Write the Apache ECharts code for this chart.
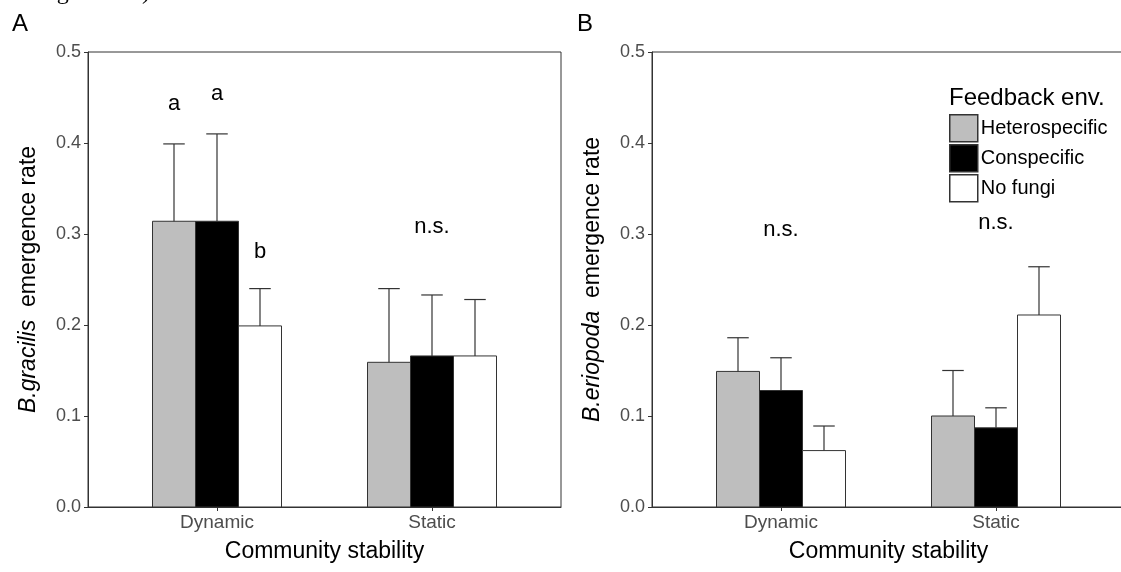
<!DOCTYPE html>
<html>
<head>
<meta charset="utf-8">
<script src="https://cdn.jsdelivr.net/npm/echarts@6/dist/echarts.min.js"></script>
<style>
  html, body { margin: 0; padding: 0; background: #fff; }
  #chart { width: 1121px; height: 572px; }
</style>
</head>
<body>
<div id="chart"></div>
<script>
// categories on the x axis and the three feedback groups
var categories = ['Dynamic', 'Static'];
var groups = ['Heterospecific', 'Conspecific', 'No fungi'];
var groupColors = ['#bebebe', '#000000', '#ffffff'];
var yTicks = [0, 0.1, 0.2, 0.3, 0.4, 0.5];

// panel A: B.gracilis, rows = groups, columns = categories
var gracilisMean = [[0.314, 0.159], [0.314, 0.166], [0.199, 0.166]];
var gracilisUpper = [[0.399, 0.240], [0.410, 0.233], [0.240, 0.228]];
// panel B: B.eriopoda
var eriopodaMean = [[0.149, 0.100], [0.128, 0.087], [0.062, 0.211]];
var eriopodaUpper = [[0.186, 0.150], [0.164, 0.109], [0.089, 0.264]];

// significance letters: [x position, y value, text]
var gracilisLetters = [[0.8, 0.443, 'a'], [1.0, 0.454, 'a'], [1.2, 0.280, 'b'], [2.0, 0.308, 'n.s.']];
var eriopodaLetters = [[1.0, 0.305, 'n.s.'], [2.0, 0.312, 'n.s.']];

var offsets = [-0.2, 0, 0.2];
var barW = 0.2;
var capW = 0.1;

var myChart = echarts.init(document.getElementById('chart'));

function barItem(params, api) {
	var x = api.value(0), y = api.value(1);
	var p0 = api.coord([x - barW / 2, 0]);
	var p1 = api.coord([x + barW / 2, y]);
	return {
		type: 'rect',
		shape: { x: p0[0], y: p1[1], width: p1[0] - p0[0], height: p0[1] - p1[1] },
		style: { fill: api.visual('color'), stroke: '#333', lineWidth: 1 }
	};
}

function errItem(params, api) {
	var x = api.value(0), m = api.value(1), u = api.value(2);
	var pm = api.coord([x, m]);
	var pu = api.coord([x, u]);
	var c0 = api.coord([x - capW / 2, u]);
	var c1 = api.coord([x + capW / 2, u]);
	var st = { stroke: '#333', lineWidth: 1.2 };
	return {
		type: 'group',
		children: [
			{ type: 'line', shape: { x1: pm[0], y1: pm[1], x2: pu[0], y2: pu[1] }, style: st },
			{ type: 'line', shape: { x1: c0[0], y1: c0[1], x2: c1[0], y2: c1[1] }, style: st }
		]
	};
}

function textItem(params, api) {
	var p = api.coord([api.value(0), api.value(1)]);
	return {
		type: 'text',
		x: p[0], y: p[1],
		style: {
			text: api.value(2),
			align: 'center', verticalAlign: 'middle',
			fill: '#000',
			font: '22px "Liberation Sans", Arial, sans-serif'
		}
	};
}

var series = [];
[[gracilisMean, gracilisUpper, gracilisLetters], [eriopodaMean, eriopodaUpper, eriopodaLetters]].forEach(function (panel, pi) {
	var mean = panel[0], upper = panel[1];
	groups.forEach(function (g, gi) {
		var pts = categories.map(function (c, ci) { return [ci + 1 + offsets[gi], mean[gi][ci]]; });
		series.push({
			name: g,
			type: 'custom',
			xAxisIndex: pi, yAxisIndex: pi,
			itemStyle: { color: groupColors[gi], borderColor: '#333', borderWidth: 1 },
			renderItem: barItem,
			data: pts
		});
	});
	var errs = [];
	groups.forEach(function (g, gi) {
		categories.forEach(function (c, ci) {
			errs.push([ci + 1 + offsets[gi], mean[gi][ci], upper[gi][ci]]);
		});
	});
	series.push({ type: 'custom', xAxisIndex: pi, yAxisIndex: pi, renderItem: errItem, data: errs, z: 3 });
	series.push({ type: 'custom', xAxisIndex: pi, yAxisIndex: pi, renderItem: textItem, data: panel[2], z: 4 });
});

var sans = '"Liberation Sans", Arial, sans-serif';

function xAxisCfg(gi) {
	return {
		type: 'value', gridIndex: gi, min: 0.4, max: 2.6,
		axisLine: { onZero: false, lineStyle: { color: '#333', width: 1 } },
		splitLine: { show: false },
		axisTick: { customValues: [1, 2], length: 4, lineStyle: { color: '#333' } },
		axisLabel: {
			customValues: [1, 2], margin: 6,
			formatter: function (v) { return categories[Math.round(v) - 1]; },
			color: '#4d4d4d', fontSize: 19, fontFamily: sans
		},
		name: 'Community stability', nameLocation: 'middle', nameGap: 33,
		nameTextStyle: { color: '#000', fontSize: 23, fontFamily: sans }
	};
}

function yAxisCfg(gi, species) {
	return {
		type: 'value', gridIndex: gi, min: 0, max: 0.5, interval: 0.1,
		axisLine: { show: true, lineStyle: { color: '#333', width: 1 } },
		splitLine: { show: false },
		axisTick: { show: true, length: 4, lineStyle: { color: '#333' } },
		axisLabel: {
			margin: 7, color: '#4d4d4d', fontSize: 18, fontFamily: sans,
			formatter: function (v) { return v.toFixed(1); }
		},
		name: '{i|' + species + '}  emergence rate',
		nameLocation: 'middle', nameGap: 48, nameRotate: 90,
		nameTextStyle: {
			color: '#000', fontSize: 23, fontFamily: sans,
			rich: { i: { fontStyle: 'italic', fontSize: 23, fontFamily: sans, color: '#000' } }
		}
	};
}

var option = {
	animation: false,
	backgroundColor: '#fff',
	grid: [
		{ left: 88, width: 473, top: 52, bottom: 65, show: true, borderColor: '#333', borderWidth: 1, outerBoundsMode: 'none' },
		{ left: 652, width: 473, top: 52, bottom: 65, show: true, borderColor: '#333', borderWidth: 1, outerBoundsMode: 'none' }
	],
	xAxis: [xAxisCfg(0), xAxisCfg(1)],
	yAxis: [yAxisCfg(0, 'B.gracilis'), yAxisCfg(1, 'B.eriopoda')],
	legend: {
		data: groups,
		orient: 'vertical',
		left: 949, top: 114,
		padding: 0,
		itemWidth: 28, itemHeight: 27, itemGap: 1.5,
		icon: 'rect',
		itemStyle: { borderColor: '#333', borderWidth: 1.5 },
		textStyle: { color: '#000', fontSize: 20, fontFamily: sans, padding: [0, 0, 0, -2] },
		selectedMode: false
	},
	graphic: [
		{ type: 'text', left: 4, top: -19, style: { text: 'not significant).', fill: '#000', font: '24px "Liberation Serif", serif' } },
		{ type: 'text', left: 12, top: 12, style: { text: 'A', fill: '#000', font: '24px ' + sans } },
		{ type: 'text', left: 577, top: 12, style: { text: 'B', fill: '#000', font: '24px ' + sans } },
		{ type: 'text', left: 949, top: 86, style: { text: 'Feedback env.', fill: '#000', font: '24px ' + sans } }
	],
	series: series
};

myChart.setOption(option);
</script>
</body>
</html>
